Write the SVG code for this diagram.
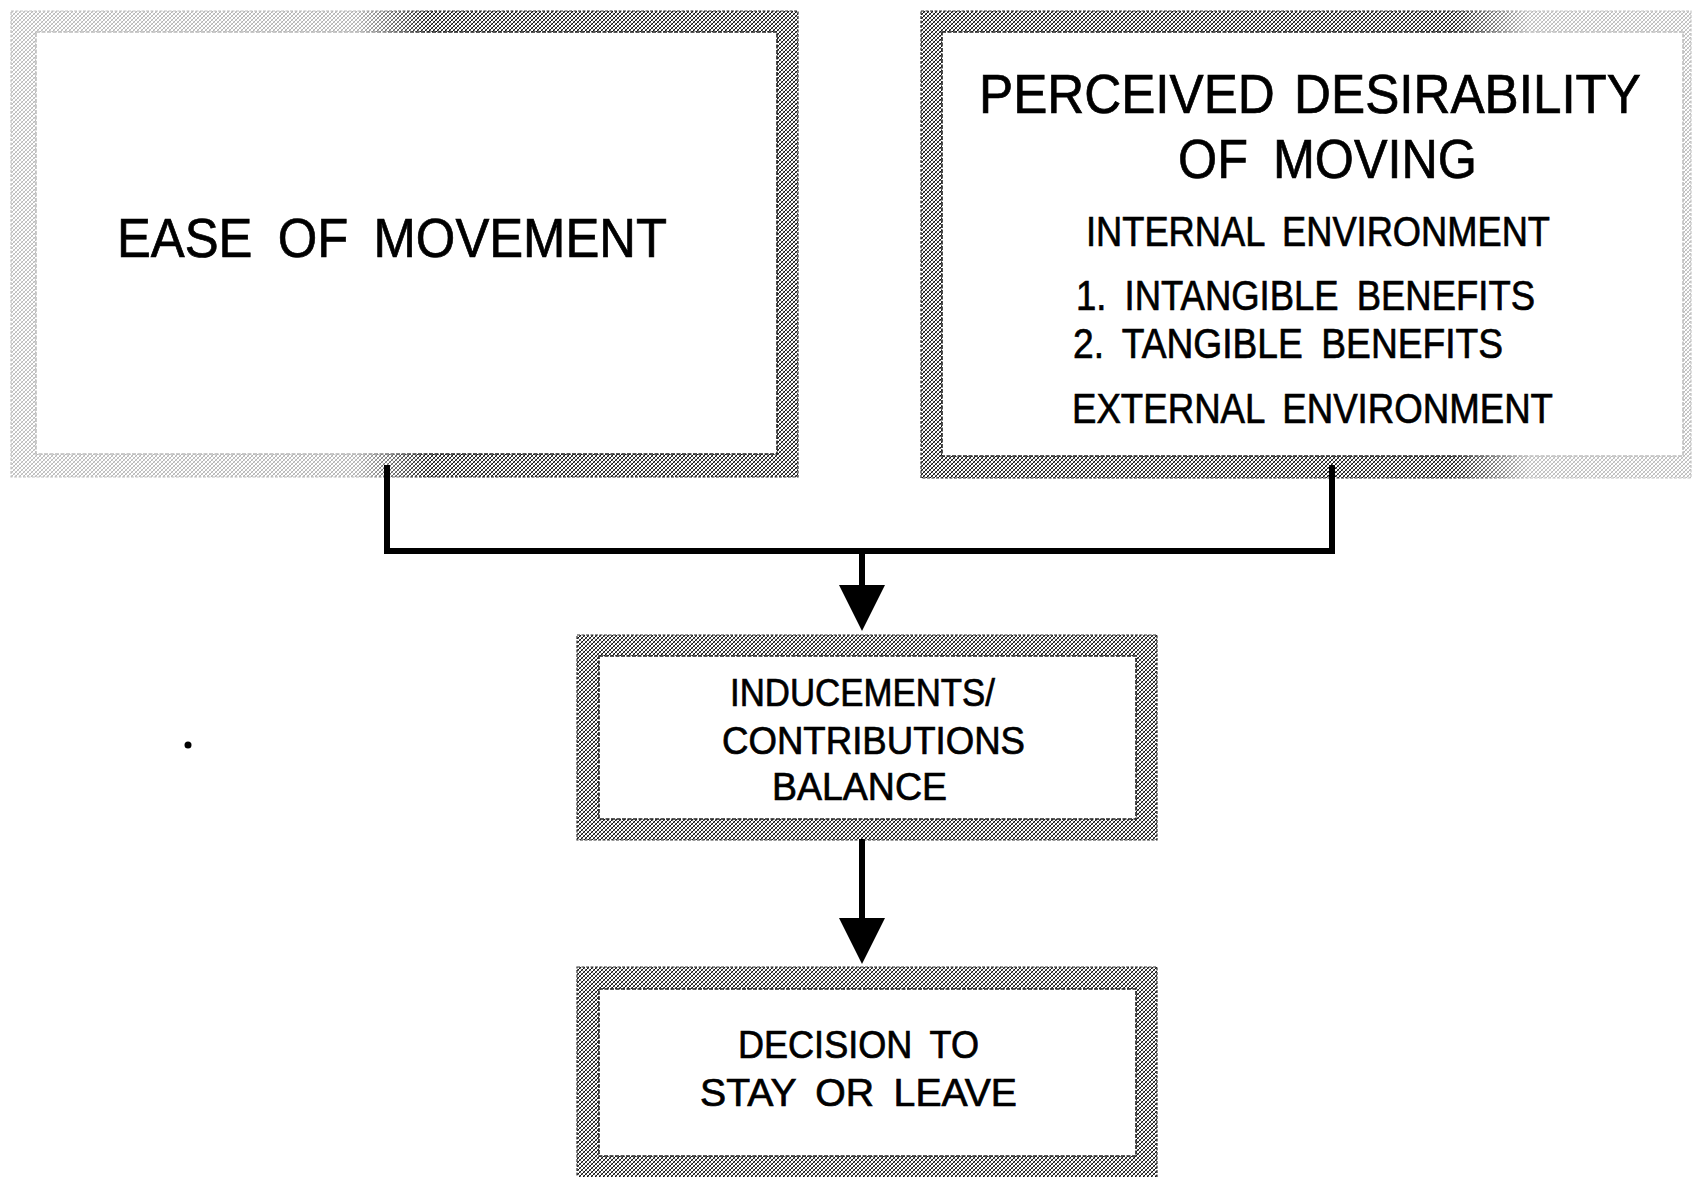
<svg xmlns="http://www.w3.org/2000/svg" width="1695" height="1177" viewBox="0 0 1695 1177">
  <style>
    .lbl { font-family: "Liberation Sans", Arial, sans-serif; fill: #000; stroke: #000; stroke-width: 0.7; word-spacing: 0.22em; }
    .big { font-size: 56px; }
    .mid { font-size: 42px; }
    .sm { font-size: 39px; }
    .title { font-size: 55px; word-spacing: 0.1em; }
    .band { fill: url(#hatch); fill-rule: evenodd; }
    .edgeO { fill: none; stroke: #333; stroke-width: 1.2; stroke-dasharray: 3 1.5; }
    .edgeI { fill: none; stroke: #222; stroke-width: 1.6; stroke-dasharray: 4 1.5; }
    .conn { fill: none; stroke: #000; stroke-width: 6; stroke-linejoin: miter; stroke-linecap: square; }
    .shaft { fill: none; stroke: #000; stroke-width: 6; }
  </style>
  <defs>
    <pattern id="hatch" width="4" height="4" patternUnits="userSpaceOnUse">
      <rect width="4" height="4" fill="#fff"/>
      <path d="M0,4 L4,0 M-1,1 L1,-1 M3,5 L5,3" stroke="#111" stroke-width="1"/>
      <path d="M0,0 L4,4" stroke="#333" stroke-width="0.7"/>
    </pattern>
    <linearGradient id="fadeL" gradientUnits="userSpaceOnUse" x1="11" y1="0" x2="798" y2="0">
      <stop offset="0" stop-color="#4a4a4a"/>
      <stop offset="0.44" stop-color="#555"/>
      <stop offset="0.53" stop-color="#fff"/>
      <stop offset="1" stop-color="#fff"/>
    </linearGradient>
    <linearGradient id="fadeR" gradientUnits="userSpaceOnUse" x1="921" y1="0" x2="1691" y2="0">
      <stop offset="0" stop-color="#fff"/>
      <stop offset="0.69" stop-color="#fff"/>
      <stop offset="0.79" stop-color="#4a4a4a"/>
      <stop offset="1" stop-color="#4a4a4a"/>
    </linearGradient>
    <mask id="maskL" maskUnits="userSpaceOnUse" x="0" y="0" width="1695" height="1177">
      <rect x="0" y="0" width="1695" height="1177" fill="url(#fadeL)"/>
    </mask>
    <mask id="maskR" maskUnits="userSpaceOnUse" x="0" y="0" width="1695" height="1177">
      <rect x="0" y="0" width="1695" height="1177" fill="url(#fadeR)"/>
    </mask>
    <marker id="arrow" viewBox="0 0 46 46" refX="6" refY="23" markerWidth="46" markerHeight="46" markerUnits="userSpaceOnUse" orient="auto">
      <path d="M0,0 L46,23 L0,46 Z" fill="#000"/>
    </marker>
  </defs>

  <rect width="1695" height="1177" fill="#fff"/>

  <g id="node-ease">
    <g mask="url(#maskL)">
      <path class="band" d="M11,11 H798 V477 H11 Z M36,32 V454 H777 V32 Z"/>
      <rect class="edgeO" x="11" y="11" width="787" height="466"/>
      <rect class="edgeI" x="36" y="32" width="741" height="422"/>
    </g>
    <text class="lbl big" x="117" y="257" textLength="550" lengthAdjust="spacingAndGlyphs">EASE OF MOVEMENT</text>
  </g>

  <g id="node-desirability">
    <g mask="url(#maskR)">
      <path class="band" d="M921,11 H1691 V478 H921 Z M942,32 V456 H1683 V32 Z"/>
      <rect class="edgeO" x="921" y="11" width="770" height="467"/>
      <rect class="edgeI" x="942" y="32" width="741" height="424"/>
    </g>
    <text class="lbl title" x="1310" y="113" text-anchor="middle" textLength="662" lengthAdjust="spacingAndGlyphs">PERCEIVED DESIRABILITY</text>
    <text class="lbl big" x="1178" y="178" textLength="299" lengthAdjust="spacingAndGlyphs">OF MOVING</text>
    <text class="lbl mid" x="1086" y="246" textLength="464" lengthAdjust="spacingAndGlyphs">INTERNAL ENVIRONMENT</text>
    <text class="lbl mid" x="1076" y="310" textLength="459" lengthAdjust="spacingAndGlyphs">1. INTANGIBLE BENEFITS</text>
    <text class="lbl mid" x="1073" y="358" textLength="430" lengthAdjust="spacingAndGlyphs">2. TANGIBLE BENEFITS</text>
    <text class="lbl mid" x="1072" y="423" textLength="481" lengthAdjust="spacingAndGlyphs">EXTERNAL ENVIRONMENT</text>
  </g>

  <g id="node-balance">
    <path class="band" d="M577,635 H1157 V840 H577 Z M599,656 V819 H1136 V656 Z"/>
    <rect class="edgeO" x="577" y="635" width="580" height="205"/>
    <rect class="edgeI" x="599" y="656" width="537" height="163"/>
    <text class="lbl sm" x="730" y="706" textLength="265" lengthAdjust="spacingAndGlyphs">INDUCEMENTS/</text>
    <text class="lbl sm" x="722" y="754" textLength="303" lengthAdjust="spacingAndGlyphs">CONTRIBUTIONS</text>
    <text class="lbl sm" x="772" y="800" textLength="175" lengthAdjust="spacingAndGlyphs">BALANCE</text>
  </g>

  <g id="node-decision">
    <path class="band" d="M577,967 H1157 V1182 H577 Z M599,989 V1156 H1136 V989 Z"/>
    <rect class="edgeO" x="577" y="967" width="580" height="215"/>
    <rect class="edgeI" x="599" y="989" width="537" height="167"/>
    <text class="lbl sm" x="738" y="1058" textLength="241" lengthAdjust="spacingAndGlyphs">DECISION TO</text>
    <text class="lbl sm" x="700" y="1106" textLength="317" lengthAdjust="spacingAndGlyphs">STAY OR LEAVE</text>
  </g>

  <g id="connectors">
    <path class="conn" d="M387,468 V551 H1332 V468"/>
    <path class="shaft" d="M862,551 V591" marker-end="url(#arrow)"/>
    <path class="shaft" d="M862,839 V924" marker-end="url(#arrow)"/>
  </g>

  <circle cx="188" cy="745" r="3.5" fill="#000"/>
</svg>
